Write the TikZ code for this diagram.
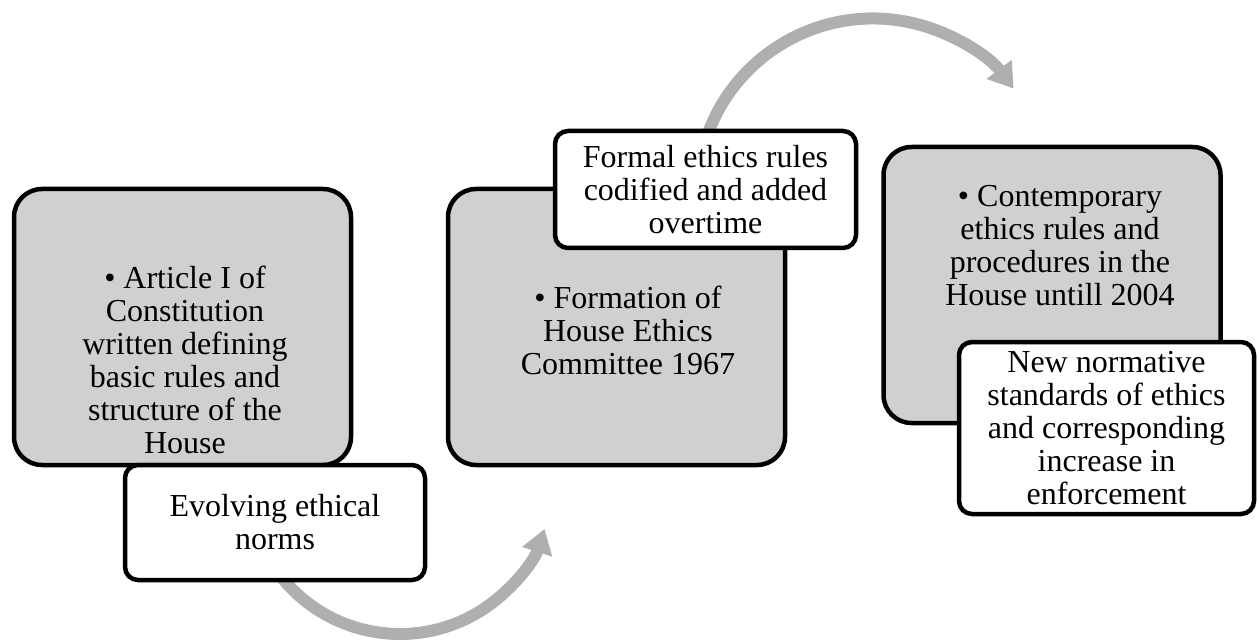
\documentclass[tikz,border=0pt]{standalone}
\usepackage{fontspec}
\setmainfont{Liberation Serif}
\usetikzlibrary{arrows.meta}
\definecolor{boxgray}{HTML}{D0D0D0}
\definecolor{arcgray}{HTML}{AFAFAF}
\begin{document}
\begin{tikzpicture}[x=1pt,y=1pt,
  bigbox/.style={draw=black, line width=4.5pt, fill=boxgray, rounded corners=28pt,
                 minimum width=337pt, minimum height=276pt, inner sep=0pt},
  tagbox/.style={draw=black, line width=4.5pt, fill=white, rounded corners=13pt,
                 align=center, font=\fontsize{32}{33}\selectfont, inner sep=0pt},
  txt/.style={align=center, font=\fontsize{32}{33}\selectfont, inner sep=0pt},
  flow/.style={draw=arcgray, line width=12pt, -{Triangle[width=30pt,length=24pt]}}]
\useasboundingbox (0,0) rectangle (1258,641);

% main grey blocks
\node[bigbox] (b1) at (182.5,314) {};
\node[bigbox] (b2) at (616.5,314) {};
\node[bigbox] (b3) at (1052,356) {};

\node[txt] (t1) at (185,281) {• Article I of\\Constitution\\written defining\\basic rules and\\structure of the\\House};
\node[txt] (t2) at (628,311) {• Formation of\\House Ethics\\Committee 1967};
\node[txt] (t3) at (1060,395) {• Contemporary\\ethics rules and\\procedures in the\\House untill 2004};

% curved arrows
\coordinate (c1) at (400,159);
\coordinate (c2) at (873,446.5);
\draw[flow] ([shift={(215:152)}]c1) arc[start angle=215, end angle=342, radius=152];
\draw[flow] ([shift={(165:176)}]c2) arc[start angle=165, end angle=37, radius=176];

% white labels
\node[tagbox, minimum width=300pt, minimum height=115pt] (l1) at (275,118.5) {Evolving ethical\\norms};
\node[tagbox, minimum width=301pt, minimum height=117pt] (l2) at (705.5,451.5) {Formal ethics rules\\codified and added\\overtime};
\node[tagbox, minimum width=295pt, minimum height=172pt] (l3) at (1106.5,213) {New normative\\standards of ethics\\and corresponding\\increase in\\enforcement};
\end{tikzpicture}
\end{document}
